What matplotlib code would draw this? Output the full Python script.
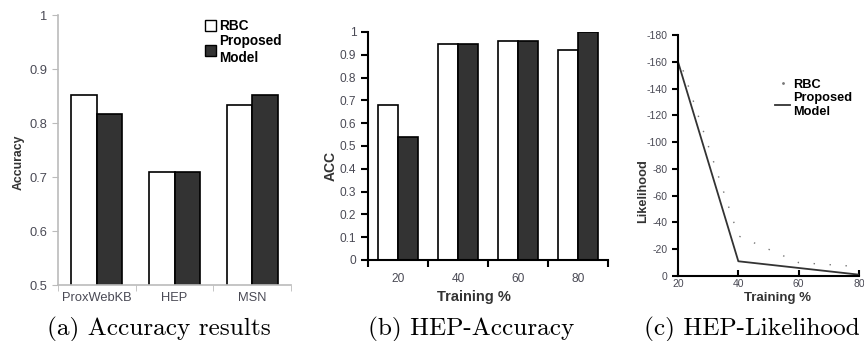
import matplotlib
matplotlib.use('Agg')
import matplotlib.pyplot as plt
import numpy as np
from matplotlib.patches import Patch
from matplotlib.lines import Line2D

# data
datasets = ['ProxWebKB', 'HEP', 'MSN']
acc_rbc = [0.851, 0.709, 0.833]
acc_proposed = [0.817, 0.709, 0.851]

train_pct = [20, 40, 60, 80]
hep_acc_rbc = [0.68, 0.947, 0.96, 0.923]
hep_acc_proposed = [0.54, 0.947, 0.96, 1.0]

hep_lik_rbc = [-165, -30, -10, -7]
hep_lik_proposed = [-160, -11, -6, -1]

captions = ['(a) Accuracy results', '(b) HEP-Accuracy', '(c) HEP-Likelihood']

plt.rcParams['font.family'] = ['Liberation Sans', 'DejaVu Sans']
plt.rcParams['axes.unicode_minus'] = False
tick_col = '#4a4a55'
lab_col = '#333333'
dark = '#333333'

fig = plt.figure(figsize=(8.64, 3.41), dpi=100)
W, H = 864.0, 341.0


def box(l, r, t, b):
    return [l / W, 1 - b / H, (r - l) / W, (b - t) / H]


def grouped(ax, vals1, vals2, bw=0.33):
    x = np.arange(len(vals1))
    ax.bar(x - bw / 2, vals1, bw, color='white', edgecolor='black', linewidth=1.2)
    ax.bar(x + bw / 2, vals2, bw, color=dark, edgecolor='black', linewidth=1.2)
    ax.set_xlim(-0.5, len(vals1) - 0.5)
    ax.set_xticks(x)
    ax.set_xticks(np.arange(len(vals1) + 1) - 0.5, minor=True)
    ax.tick_params(axis='x', which='major', length=0)
    for s in ['top', 'right']:
        ax.spines[s].set_visible(False)


def place_labels(ax, xl=None, yl=None):
    # label positions in the reference sit off-centre
    if xl is not None:
        ax.xaxis.set_label_coords(*xl)
        ax.xaxis.label.set_va('center')
    if yl is not None:
        ax.yaxis.set_label_coords(*yl)
        ax.yaxis.label.set_va('center')


# (a) accuracy results
ax1 = fig.add_axes(box(58, 291, 15, 285))
grouped(ax1, acc_rbc, acc_proposed)
ax1.set_ylim(0.5, 1.0)
ax1.set_yticks([0.5, 0.6, 0.7, 0.8, 0.9, 1.0])
ax1.set_yticklabels(['0.5', '0.6', '0.7', '0.8', '0.9', '1'])
ax1.set_xticklabels(datasets)
for s in ['left', 'bottom']:
    ax1.spines[s].set_color('#bbbbbb')
    ax1.spines[s].set_linewidth(1.2)
ax1.tick_params(axis='both', which='both', colors='#bbbbbb', labelcolor=tick_col,
                labelsize=9.3, length=4)
ax1.tick_params(axis='x', which='major', length=0, pad=5)
ax1.set_ylabel('Accuracy', fontsize=8.8, fontweight='bold', color=lab_col)
place_labels(ax1, yl=(-0.167, 0.454))
ax1.legend(handles=[Patch(facecolor='white', edgecolor='black', label='RBC'),
                    Patch(facecolor=dark, edgecolor='black', label='Proposed\nModel')],
           loc='upper left', bbox_to_anchor=(0.6, 1.01), frameon=False,
           prop={'weight': 'bold', 'size': 9.8}, handlelength=0.85, handleheight=0.85,
           handletextpad=0.25, labelspacing=0.1, borderaxespad=0.1)

# (b) HEP accuracy
ax2 = fig.add_axes(box(368, 608, 32, 260))
grouped(ax2, hep_acc_rbc, hep_acc_proposed)
ax2.set_ylim(0, 1.0)
ax2.set_yticks(np.arange(0, 1.01, 0.1))
ax2.set_yticklabels(['0', '0.1', '0.2', '0.3', '0.4', '0.5', '0.6', '0.7', '0.8', '0.9', '1'])
ax2.set_xticklabels([str(t) for t in train_pct])
for s in ['left', 'bottom']:
    ax2.spines[s].set_linewidth(1.5)
ax2.tick_params(axis='both', which='both', labelcolor=tick_col, labelsize=8.6, length=5, width=1.5)
ax2.tick_params(axis='x', which='major', length=0, pad=9)
ax2.set_xlabel('Training %', fontsize=10.5, fontweight='bold', color=lab_col)
ax2.set_ylabel('ACC', fontsize=10, fontweight='bold', color=lab_col)
place_labels(ax2, xl=(0.44, -0.162), yl=(-0.155, 0.412))

# (c) HEP likelihood
ax3 = fig.add_axes(box(678, 859, 35, 276))
ax3.plot(train_pct, hep_lik_rbc, color='#777777', linewidth=1.0, linestyle=(0, (1, 10.5)))
ax3.plot(train_pct, hep_lik_proposed, color='#333333', linewidth=1.3)
ax3.set_xlim(20, 80)
ax3.set_ylim(0, -180)
ax3.set_xticks(train_pct)
ax3.set_yticks(np.arange(0, -181, -20))
for s in ['top', 'right']:
    ax3.spines[s].set_visible(False)
for s in ['left', 'bottom']:
    ax3.spines[s].set_linewidth(1.5)
ax3.tick_params(axis='both', labelcolor=tick_col, labelsize=7.5, length=4, width=1.5)
ax3.tick_params(axis='x', direction='in', pad=2)
ax3.set_xlabel('Training %', fontsize=9.5, fontweight='bold', color=lab_col)
ax3.set_ylabel('Likelihood', fontsize=9.2, fontweight='bold', color=lab_col)
place_labels(ax3, xl=(0.55, -0.091), yl=(-0.193, 0.353))
ax3.legend(handles=[Line2D([], [], color='#777777', marker='.', markersize=2, linestyle='none', label='RBC'),
                    Line2D([], [], color='#333333', linewidth=1.3, label='Proposed\nModel')],
           loc='upper left', bbox_to_anchor=(0.5, 0.845), frameon=False,
           prop={'weight': 'bold', 'size': 9.2}, handlelength=1.2,
           handletextpad=0.25, labelspacing=0.1, borderaxespad=0.1)

# captions
for xc, txt in zip([159, 471, 752], captions):
    fig.text(xc / W, 1 - 329 / H, txt, family='cmr10', fontsize=18.2, ha='center', va='center')

fig.savefig('out.png', dpi=100)
